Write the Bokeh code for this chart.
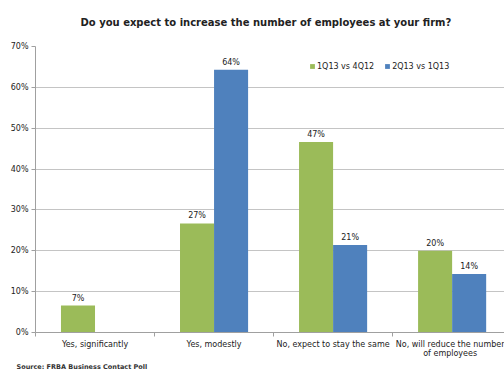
from bokeh.plotting import figure
from bokeh.models import (Range1d, FixedTicker, ColumnDataSource, Title, Legend, LegendItem)
from bokeh.core.properties import value
from bokeh.embed import file_html
from bokeh.resources import INLINE

categories = ["Yes, significantly", "Yes, modestly", "No, expect to stay the same",
              "No, will reduce the number\nof employees"]
series_names = ["1Q13 vs 4Q12", "2Q13 vs 1Q13"]
q1_vals = [6.6, 26.7, 46.6, 20.0]
q2_vals = [None, 64.3, 21.4, 14.3]
y_ticks = [0, 10, 20, 30, 40, 50, 60, 70]

GREEN = "#9BBB59"
BLUE = "#4F81BD"
FONT = "DejaVu Sans"
TXT = "#222222"

p = figure(width=504, height=370, output_backend="svg", toolbar_location=None,
           x_range=Range1d(0, 3.94), y_range=Range1d(0, 70),
           min_border_left=35, min_border_right=0, min_border_top=46, min_border_bottom=36)
p.outline_line_color = None
p.title = Title(text="Do you expect to increase the number of employees at your firm?",
                align="left", vertical_align="top", text_font=FONT, text_font_size="10px",
                text_font_style="bold", text_color=TXT, offset=45, standoff=33)

bw = 0.286
x_centers = [i + 0.5 for i in range(len(categories))]
g_x = [c - bw / 2 for c in x_centers]
b_x = [c + bw / 2 for c in x_centers]
b_idx = [i for i, v in enumerate(q2_vals) if v is not None]

src_g = ColumnDataSource(dict(x=g_x, top=q1_vals,
                              lab=[f"{round(v)}%" for v in q1_vals]))
src_b = ColumnDataSource(dict(x=[b_x[i] for i in b_idx], top=[q2_vals[i] for i in b_idx],
                              lab=[f"{round(q2_vals[i])}%" for i in b_idx]))

rg = p.vbar(x="x", top="top", width=bw, source=src_g, fill_color=GREEN, line_color=None)
rb = p.vbar(x="x", top="top", width=bw, source=src_b, fill_color=BLUE, line_color=None)

for s in (src_g, src_b):
    p.text(x="x", y="top", text="lab", source=s, text_align="center",
           text_baseline="bottom", y_offset=-3, text_font=value(FONT),
           text_font_size="8px", text_color=TXT)

# axes
p.xaxis.ticker = FixedTicker(ticks=x_centers, minor_ticks=[0, 1, 2, 3, 4])
p.xaxis.major_label_overrides = {c: lab for c, lab in zip(x_centers, categories)}
p.xaxis.major_tick_out = 0
p.xaxis.major_tick_in = 0
p.xaxis.minor_tick_out = 4
p.xaxis.minor_tick_in = 0
p.xaxis.minor_tick_line_color = "#a0a0a0"
p.xaxis.axis_line_color = "#a0a0a0"
p.xaxis.major_label_text_font = FONT
p.xaxis.major_label_text_font_size = "8px"
p.xaxis.major_label_text_line_height = 1.0
p.xaxis.major_label_text_color = TXT
p.xaxis.major_label_standoff = 3

p.yaxis.ticker = FixedTicker(ticks=y_ticks)
p.yaxis.major_label_overrides = {t: f"{t}%" for t in y_ticks}
p.yaxis.major_tick_out = 4
p.yaxis.major_tick_in = 0
p.yaxis.minor_tick_line_color = None
p.yaxis.axis_line_color = "#a0a0a0"
p.yaxis.major_tick_line_color = "#a0a0a0"
p.yaxis.major_label_text_font = FONT
p.yaxis.major_label_text_font_size = "8px"
p.yaxis.major_label_text_color = TXT
p.yaxis.major_label_standoff = 3

p.xgrid.grid_line_color = None
p.ygrid.grid_line_color = "#c4c4c4"
p.ygrid.ticker = FixedTicker(ticks=y_ticks)

legend = Legend(items=[LegendItem(label=series_names[0], renderers=[rg]),
                       LegendItem(label=series_names[1], renderers=[rb])],
                orientation="horizontal", location=(274, 260),
                border_line_color=None, background_fill_alpha=0,
                padding=0, margin=0, spacing=10, label_height=12,
                glyph_width=6, glyph_height=6, label_standoff=2,
                label_text_font=FONT, label_text_font_size="8px", label_text_color=TXT)
p.add_layout(legend)

src_title = Title(text="Source: FRBA Business Contact Poll", align="left",
                  text_font=FONT, text_font_size="6.5px", text_font_style="bold",
                  text_line_height=1.0, text_color="#333333", offset=-19, standoff=0)
p.add_layout(src_title, "below")

open("out.html", "w").write(file_html(p, INLINE))
